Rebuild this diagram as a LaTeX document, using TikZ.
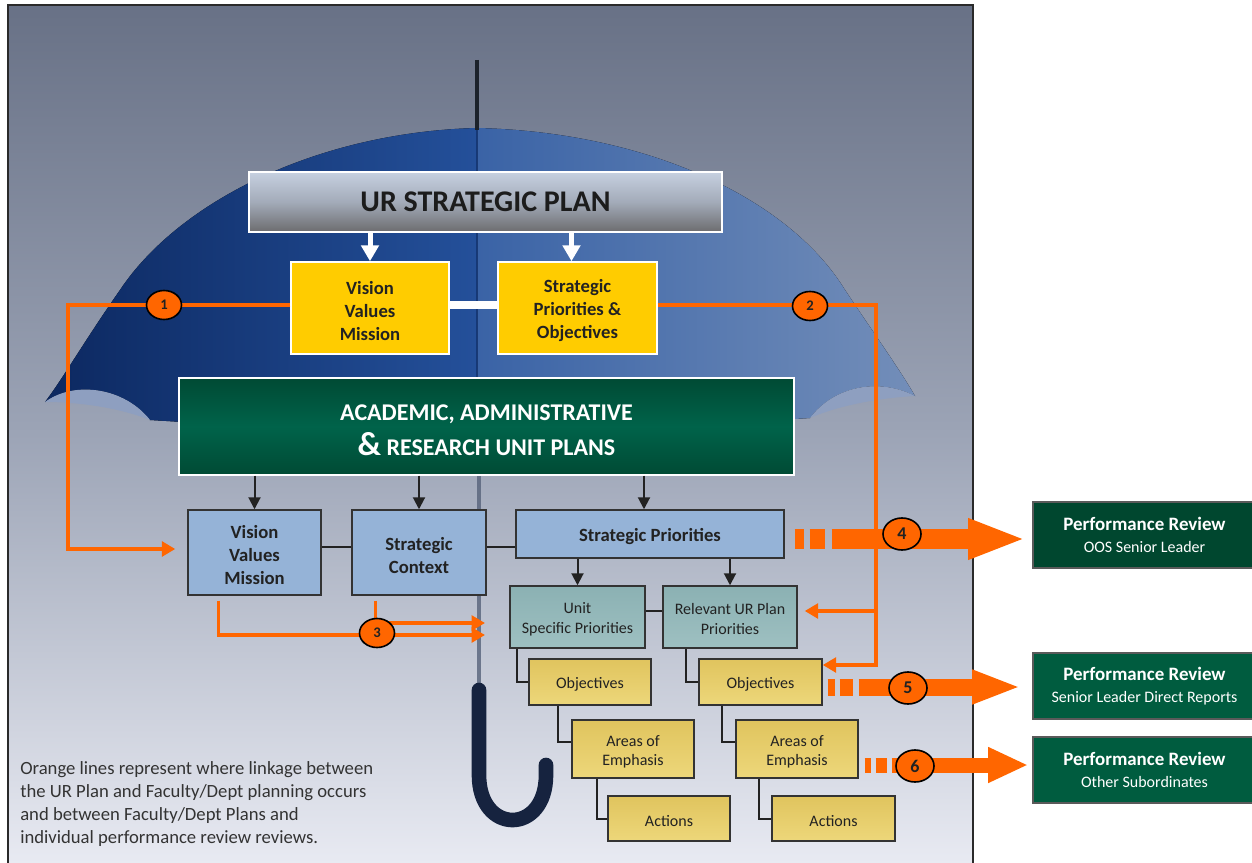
\documentclass[tikz,border=0pt]{standalone}
\usepackage{fontspec}
\setmainfont{Carlito}
\usetikzlibrary{arrows.meta,shapes.geometric}
\definecolor{orng}{HTML}{FF6600}
\definecolor{bgtop}{HTML}{687186}
\definecolor{bgmid}{HTML}{9CA4B6}
\definecolor{bgbot}{HTML}{E8EAF2}
\definecolor{navyA}{HTML}{0C2860}
\definecolor{navyB}{HTML}{24509A}
\definecolor{bluA}{HTML}{3A63A6}
\definecolor{bluB}{HTML}{738EB9}
\definecolor{under}{HTML}{8E9FC0}
\definecolor{handle}{HTML}{16233F}
\definecolor{shaft}{HTML}{56627A}
\definecolor{tipc}{HTML}{1C222B}
\definecolor{ylw}{HTML}{FFCC00}
\definecolor{lblue}{HTML}{95B3D7}
\definecolor{teal1}{HTML}{8BB1B3}
\definecolor{teal2}{HTML}{9EC0C1}
\definecolor{tan1}{HTML}{E0C45E}
\definecolor{tan2}{HTML}{EDD77A}
\definecolor{grA}{HTML}{004A34}
\definecolor{grB}{HTML}{00634A}
\definecolor{prA}{HTML}{00472F}
\definecolor{prB}{HTML}{005C3F}
\definecolor{urA}{HTML}{C6D0E0}
\definecolor{urB}{HTML}{A3ABB9}
\definecolor{urC}{HTML}{6C6C6E}
\definecolor{urtxt}{HTML}{1C1C1C}
\definecolor{ink}{HTML}{222222}
\definecolor{edge}{HTML}{333333}
\definecolor{notec}{HTML}{333333}
\definecolor{frame}{HTML}{2A2A2A}
\definecolor{pedge}{HTML}{5A5A5A}
\newcommand{\txtstrut}{\rule{0pt}{1em}}
\begin{document}
\begin{tikzpicture}[x=0.75pt,y=-0.75pt,
  wh/.style 2 args={minimum width=#1*0.75pt, minimum height=#2*0.75pt},
  bx/.style={draw=edge, line width=1.1pt, inner sep=0pt, align=center, text=ink},
  ybox/.style={bx, draw=white, fill=ylw, font=\fontsize{14}{17.25}\selectfont\bfseries},
  bbox/.style={bx, fill=lblue, font=\fontsize{14}{17.25}\selectfont\bfseries},
  tbox/.style={bx, top color=teal1, bottom color=teal2, font=\fontsize{12}{15}\selectfont},
  abox/.style={bx, top color=tan1, bottom color=tan2, font=\fontsize{12}{14.25}\selectfont},
  pbox/.style={draw=pedge, line width=1.3pt, inner sep=0pt, align=center, text=white, font=\fontsize{14.2}{16.5}\selectfont\bfseries},
  num/.style={ellipse, draw=black, line width=1.2pt, fill=orng, inner sep=0pt, wh={35}{29}, font=\fontsize{11}{11}\selectfont\bfseries, text=ink},
  bignum/.style={num, wh={38}{32}, font=\fontsize{13.5}{13.5}\selectfont\bfseries},
  blk/.style={draw=ink, line width=1.5pt, -{Triangle[length=9pt,width=9pt]}},
  lk/.style={draw=ink, line width=1.5pt},
  ol/.style={draw=orng, line width=2.5pt},
  oa/.style={ol, -{Triangle[length=10pt,width=11pt]}},
  wa/.style={draw=white, line width=3.75pt, -{Triangle[length=12pt,width=13pt]}}
]
\useasboundingbox (0,0) rectangle (1252,863);
\fill[white] (0,0) rectangle (1252,863);
% background panel
\fill[top color=bgtop, bottom color=bgbot, middle color=bgmid] (8,5) rectangle (973,863);
% umbrella
\fill[left color=bluA, right color=bluB] (477,128) .. controls (650,132) and (790,200) .. (845,290) .. controls (875,335) and (900,370) .. (915,396) .. controls (880,378) and (835,385) .. (810,418) -- (477,440) -- cycle;
\fill[left color=navyA, right color=navyB] (477,128) .. controls (320,132) and (180,200) .. (120,290) .. controls (85,340) and (62,380) .. (45,402) .. controls (75,380) and (125,388) .. (150,420) -- (477,440) -- cycle;
\fill[under] (45,402) .. controls (75,380) and (125,388) .. (150,420) .. controls (120,408) and (80,402) .. (45,402) -- cycle;
\fill[under] (915,396) .. controls (880,378) and (835,385) .. (810,418) .. controls (840,405) and (880,398) .. (915,396) -- cycle;
\draw[navyA, line width=1.5pt, opacity=0.6] (477,128) -- (477,440);
\draw[tipc, line width=3pt] (477,60) -- (477,130);
\draw[shaft, line width=3pt, opacity=0.8] (479,475) -- (479,692);
\draw[handle, line width=11pt, line cap=round] (479,690) -- (479,775) .. controls (479,835) and (546,835) .. (546,775) -- (546,765);
\draw[frame, line width=1.5pt] (8,863) -- (8,5) -- (973,5) -- (973,863);

% boxes
\node[bx, draw=white, wh={473}{60}, top color=urA, bottom color=urC, middle color=urB, text=urtxt, font=\fontsize{22.5}{25}\selectfont\bfseries] (ur) at (485.5,202) {UR STRATEGIC PLAN};
\node[ybox, wh={158}{92}] (yv) at (370,308) {\txtstrut Vision\\Values\\Mission};
\node[ybox, wh={159}{92}] (ys) at (577.5,308) {\txtstrut Strategic\\Priorities \&\\Objectives};
\node[bx, draw=white, wh={615}{97}, top color=grA, bottom color=grA, middle color=grB, text=white, font=\fontsize{18}{26.25}\selectfont\bfseries] (gr) at (486.5,426.5) {\txtstrut ACADEMIC, ADMINISTRATIVE\\{\fontsize{25}{26.25}\selectfont\&} RESEARCH UNIT PLANS};
\node[bbox, wh={133}{85}] (bv) at (254.5,552.5) {\txtstrut Vision\\Values\\Mission};
\node[bbox, wh={134}{85}] (bc) at (419,552.5) {\txtstrut Strategic\\Context};
\node[bbox, wh={268}{48}] (bp) at (650,534) {\txtstrut Strategic Priorities};
\node[tbox, wh={135}{62}] (tu) at (577.5,617) {\txtstrut Unit\\Specific Priorities};
\node[tbox, wh={134}{62}] (tr) at (730,617) {\txtstrut Relevant UR Plan\\Priorities};
\node[abox, wh={122}{46}] (oL) at (590,682) {\txtstrut Objectives};
\node[abox, wh={122}{58}] (aL) at (633,749) {\txtstrut Areas of\\Emphasis};
\node[abox, wh={122}{45}] (cL) at (669,818.5) {\txtstrut Actions};
\node[abox, wh={123}{46}] (oR) at (760.5,682) {\txtstrut Objectives};
\node[abox, wh={122}{58}] (aR) at (797,749) {\txtstrut Areas of\\Emphasis};
\node[abox, wh={123}{45}] (cR) at (833.5,818.5) {\txtstrut Actions};
\node[pbox, fill=prA, wh={223}{66}] (p1) at (1144.5,535) {Performance Review\\{\fontsize{12}{16.5}\selectfont\mdseries OOS Senior Leader}};
\node[pbox, fill=prB, wh={223}{66}] (p2) at (1144.5,686) {Performance Review\\{\fontsize{12}{16.5}\selectfont\mdseries Senior Leader Direct Reports}};
\node[pbox, fill=prB, wh={223}{66}] (p3) at (1144.5,770) {Performance Review\\{\fontsize{12}{16.5}\selectfont\mdseries Other Subordinates}};

% white links
\coordinate (w2) at ([xshift=-4.5pt]ys.north);
\draw[wa] (ur.south -| yv.north) -- (yv.north);
\draw[wa] (ur.south -| w2) -- (w2);
\draw[white, line width=6pt] ([yshift=2.25pt]yv.east) -- ([yshift=2.25pt]ys.west);

% black links
\coordinate (k) at ([xshift=-4.5pt]bp.north);
\draw[blk] (gr.south -| bv.north) -- (bv.north);
\draw[blk] (gr.south -| bc.north) -- (bc.north);
\draw[blk] (k |- gr.south) -- (k);
\draw[blk] (bp.south -| tu.north) -- (tu.north);
\draw[blk] (bp.south -| tr.north) -- (tr.north);
\draw[lk] ([yshift=4.5pt]bv.east) -- ([yshift=4.5pt]bc.west);
\coordinate (m1) at ([yshift=4.5pt]bc.east);
\draw[lk] (m1) -- (m1 -| bp.west);
\draw[lk] ([yshift=4.5pt]tu.east) -- ([yshift=4.5pt]tr.west);
\draw[lk] ([xshift=6pt]tu.south west) |- (oL.west);
\draw[lk] ([xshift=22.5pt]oL.south west) |- ([yshift=5.25pt]aL.west);
\draw[lk] ([xshift=19.5pt]aL.south west) |- (cL.west);
\draw[lk] ([xshift=18pt]tr.south west) |- (oR.west);
\draw[lk] ([xshift=18pt]oR.south west) |- ([yshift=5.25pt]aR.west);
\draw[lk] ([xshift=18pt]aR.south west) |- (cR.west);

% orange links
\coordinate (c1) at (68,305);
\coordinate (c1b) at (68,549);
\draw[oa, shorten >=9pt] (yv.west |- c1) -- (c1) -- (c1b) -- (c1b -| bv.west);
\coordinate (c2) at (876,305);
\coordinate (c3) at (876,665);
\coordinate (c4) at (876,611);
\draw[oa] (ys.east |- c2) -- (c2) -- (c3) -- (c3 -| oR.east);
\draw[oa, shorten >=5.25pt] (c4) -- (c4 -| tr.east);
\coordinate (e1) at (485,635);
\coordinate (e2) at (485,623);
\draw[oa] ([xshift=23.25pt,yshift=-3.75pt]bv.south west) |- (e1);
\draw[oa] ([xshift=18pt,yshift=-3.75pt]bc.south west) |- (e2);

% thick orange arrows
\coordinate (s4) at ([xshift=7.5pt,yshift=-3.75pt]bp.east);
\coordinate (s5) at ([xshift=3.75pt,yshift=-3.75pt]oR.east);
\coordinate (s6) at ([xshift=4.5pt,yshift=-12pt]aR.east);
\draw[orng, line width=15pt, dash pattern=on 6.75pt off 4.5pt on 11.25pt off 5.25pt on 400pt off 1pt, shorten >=4.5pt, -{Triangle[length=43.5pt,width=27.75pt]}] (s4) -- (s4 -| p1.west);
\draw[orng, line width=12.75pt, dash pattern=on 5.25pt off 3.75pt on 9.75pt off 4.5pt on 400pt off 1pt, shorten >=8.25pt, -{Triangle[length=36.75pt,width=23.25pt]}] (s5) -- (s5 -| p2.west);
\draw[orng, line width=11.25pt, dash pattern=on 4.5pt off 3.75pt on 8.25pt off 3.75pt on 400pt off 1pt, shorten >=3pt, -{Triangle[length=30pt,width=24.75pt]}] (s6) -- (s6 -| p3.west);

% number markers
\node[num] (n1) at (164,305) {1};
\node[num] (n2) at (810,306) {2};
\node[num] (n3) at (377,633) {3};
\node[bignum] (n4) at (902,534) {4};
\node[bignum] (n5) at (908,688) {5};
\node[bignum] (n6) at (915,766) {6};

% note
\node[anchor=north west, inner sep=0pt, align=left, text=notec, font=\fontsize{14}{17.25}\selectfont] (note) at (20,761) {Orange lines represent where linkage between\\the UR Plan and Faculty/Dept planning occurs\\and between Faculty/Dept Plans and\\individual performance review reviews.};
\end{tikzpicture}
\end{document}
